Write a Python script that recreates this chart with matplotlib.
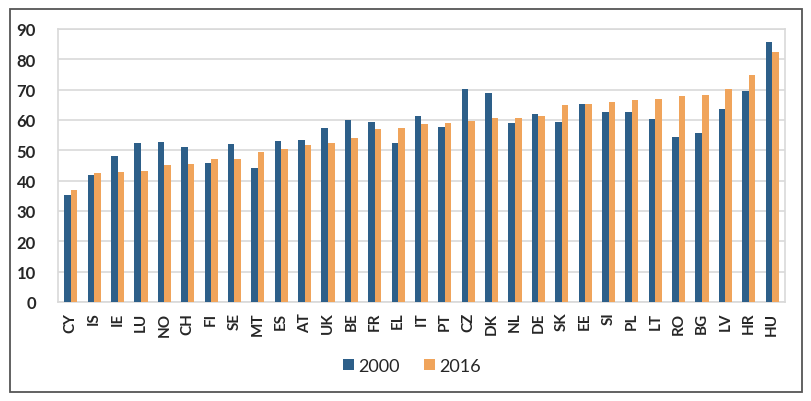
import numpy as np
import matplotlib.pyplot as plt
from matplotlib.patches import Rectangle

countries = ['CY', 'IS', 'IE', 'LU', 'NO', 'CH', 'FI', 'SE', 'MT', 'ES',
             'AT', 'UK', 'BE', 'FR', 'EL', 'IT', 'PT', 'CZ', 'DK', 'NL',
             'DE', 'SK', 'EE', 'SI', 'PL', 'LT', 'RO', 'BG', 'LV', 'HR', 'HU']
y2000 = [35.3, 41.8, 48.2, 52.3, 52.9, 51.2, 45.8, 52.2, 44.3, 53.0,
         53.5, 57.5, 60.0, 59.4, 52.4, 61.2, 57.6, 70.1, 68.8, 58.9,
         61.9, 59.5, 65.2, 62.6, 62.7, 60.3, 54.5, 55.8, 63.5, 69.4, 85.6]
y2016 = [37.0, 42.4, 43.0, 43.2, 45.1, 45.5, 47.1, 47.1, 49.4, 50.3,
         51.7, 52.4, 54.1, 57.0, 57.5, 58.7, 58.9, 59.7, 60.5, 60.8,
         61.2, 65.0, 65.2, 66.0, 66.6, 66.9, 67.8, 68.2, 70.1, 74.9, 82.5]

blue = '#2D5F89'
orange = '#F0A45B'
txt = '#262626'

plt.rcParams['font.family'] = ['Lato', 'DejaVu Sans']

fig = plt.figure(figsize=(8.11, 4.02), dpi=100)
ax = fig.add_axes([58 / 811, 1 - 303 / 402, 727 / 811, 273 / 402])

x = np.arange(len(countries))
w = 0.28
ax.bar(x - w / 2, y2000, w, color=blue, label='2000', zorder=3)
ax.bar(x + w / 2, y2016, w, color=orange, label='2016', zorder=3)

ax.set_xlim(-0.55, len(countries) - 0.45)
ax.set_ylim(0, 90)
ax.set_yticks(range(0, 91, 10))
ax.yaxis.grid(True, color='#D9D9D9', linewidth=1.2, zorder=0)
ax.tick_params(axis='y', length=0, pad=16, labelsize=12, labelcolor=txt)
ax.tick_params(axis='x', length=0, pad=7, labelsize=11, labelcolor=txt)
for t in ax.get_yticklabels():
    t.set_fontweight('bold')
ax.set_xticks(x)
ax.set_xticklabels(countries, rotation=90, fontweight='bold')
for s in ax.spines.values():
    s.set_color('#D9D9D9')
    s.set_linewidth(1.2)

leg = fig.legend(loc='center', bbox_to_anchor=(412 / 811, 1 - 367 / 402),
                 ncol=2, frameon=False, fontsize=13, handlelength=0.6,
                 handleheight=0.6, handletextpad=0.25, columnspacing=1.3)
for t in leg.get_texts():
    t.set_color(txt)

fig.patches.append(Rectangle((10 / 811, 1 - 393 / 402), 792 / 811, 383 / 402,
                             transform=fig.transFigure, fill=False,
                             edgecolor='#555555', linewidth=1.3))

fig.savefig('out.png', dpi=100)
